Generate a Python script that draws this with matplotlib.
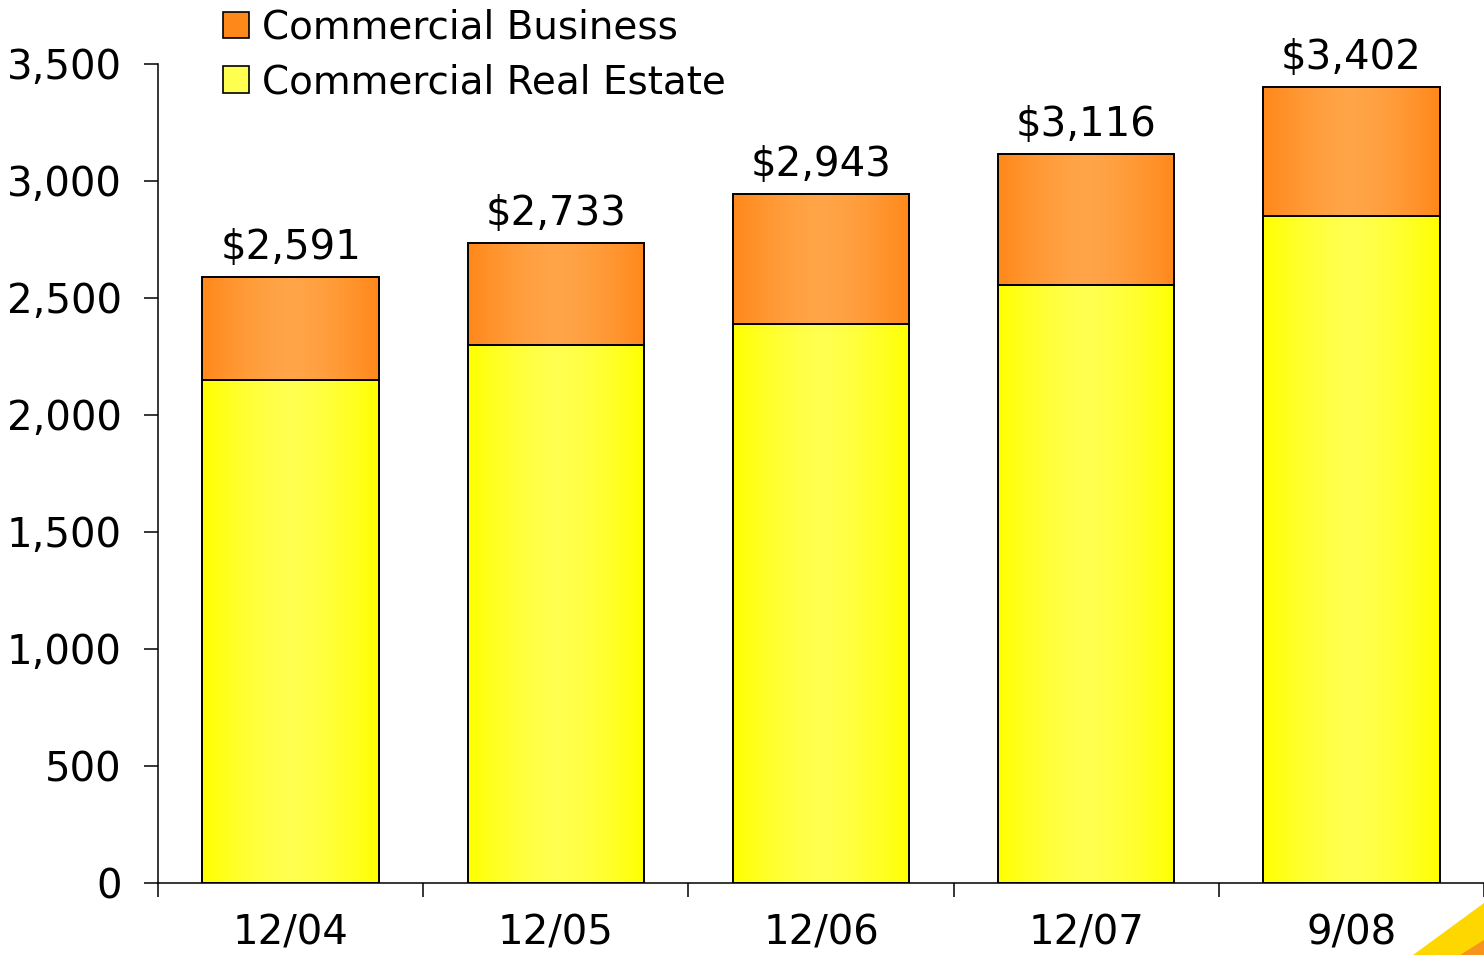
import matplotlib.pyplot as plt
import numpy as np
from matplotlib.patches import Polygon, Patch

plt.rcParams['font.family'] = 'DejaVu Sans'
plt.rcParams['font.size'] = 29

# Loan balances by period
periods = ['12/04', '12/05', '12/06', '12/07', '9/08']
real_estate = [2150, 2300, 2390, 2557, 2850]
totals = [2591, 2733, 2943, 3116, 3402]
business = [t - r for t, r in zip(totals, real_estate)]

orange_edge, orange_mid = np.array([255, 136, 26]) / 255, np.array([255, 165, 72]) / 255
yellow_edge, yellow_mid = np.array([255, 255, 0]) / 255, np.array([255, 255, 80]) / 255

fig = plt.figure(figsize=(14.84, 9.55), dpi=100)
ax = fig.add_axes([0.1065, 0.0754, 0.8935, 0.8576])

def gradient(c_edge, c_mid, n=200):
    t = np.linspace(0, 1, n)
    w = 1 - np.abs(2 * t - 1) ** 1.5
    img = c_edge[None, :] * (1 - w[:, None]) + c_mid[None, :] * w[:, None]
    return img[None, :, :]

width = 0.665
x = np.arange(len(periods))

for i in range(len(periods)):
    segments = [(0, real_estate[i], yellow_edge, yellow_mid),
                (real_estate[i], business[i], orange_edge, orange_mid)]
    for base, h, ce, cm in segments:
        bar = ax.bar(x[i], h, width, bottom=base, facecolor='none',
                     edgecolor='black', linewidth=1.4, zorder=3)[0]
        im = ax.imshow(gradient(ce, cm), aspect='auto', zorder=2,
                       extent=(x[i] - width / 2, x[i] + width / 2, base, base + h))
        im.set_clip_path(bar)
    ax.annotate(f'${totals[i]:,}', (x[i], totals[i]), xytext=(0, 13),
                textcoords='offset points', ha='center', va='baseline',
                annotation_clip=False)

ax.set_xlim(-0.5, len(periods) - 0.5)
ax.set_ylim(0, 3500)
ax.set_yticks(np.arange(0, 3501, 500))
ax.set_yticklabels([f'{v:,}' for v in range(0, 3501, 500)])
ax.set_xticks(np.arange(-0.5, len(periods)))
ax.set_xticklabels([])
ax.set_xticks(x, minor=True)
ax.set_xticklabels(periods, minor=True)
ax.tick_params(axis='both', which='major', direction='out', length=10, width=1.1)
ax.tick_params(axis='y', pad=16)
ax.tick_params(axis='x', which='minor', length=0, pad=22)

for side in ['top', 'right']:
    ax.spines[side].set_visible(False)
for side in ['left', 'bottom']:
    ax.spines[side].set_linewidth(1.1)

handles = [Patch(facecolor=orange_edge, edgecolor='black', linewidth=1.2),
           Patch(facecolor=yellow_mid, edgecolor='black', linewidth=1.2)]
fig.legend(handles, ['Commercial Business', 'Commercial Real Estate'],
           loc='upper left', bbox_to_anchor=(0.1396, 1.007), frameon=False,
           fontsize=28, handlelength=0.67, handleheight=0.67, handletextpad=0.35,
           labelspacing=0.42, borderaxespad=0)

# corner accent
fig.patches.append(Polygon([(1413 / 1484, 0), (1, 52 / 955), (1, 0)],
                           closed=True, transform=fig.transFigure,
                           facecolor='#FFD700', edgecolor='none'))
fig.patches.append(Polygon([(1460 / 1484, 0), (1, 15 / 955), (1, 0)],
                           closed=True, transform=fig.transFigure,
                           facecolor='#F7941D', edgecolor='none'))

plt.savefig('out.png', dpi=100)
